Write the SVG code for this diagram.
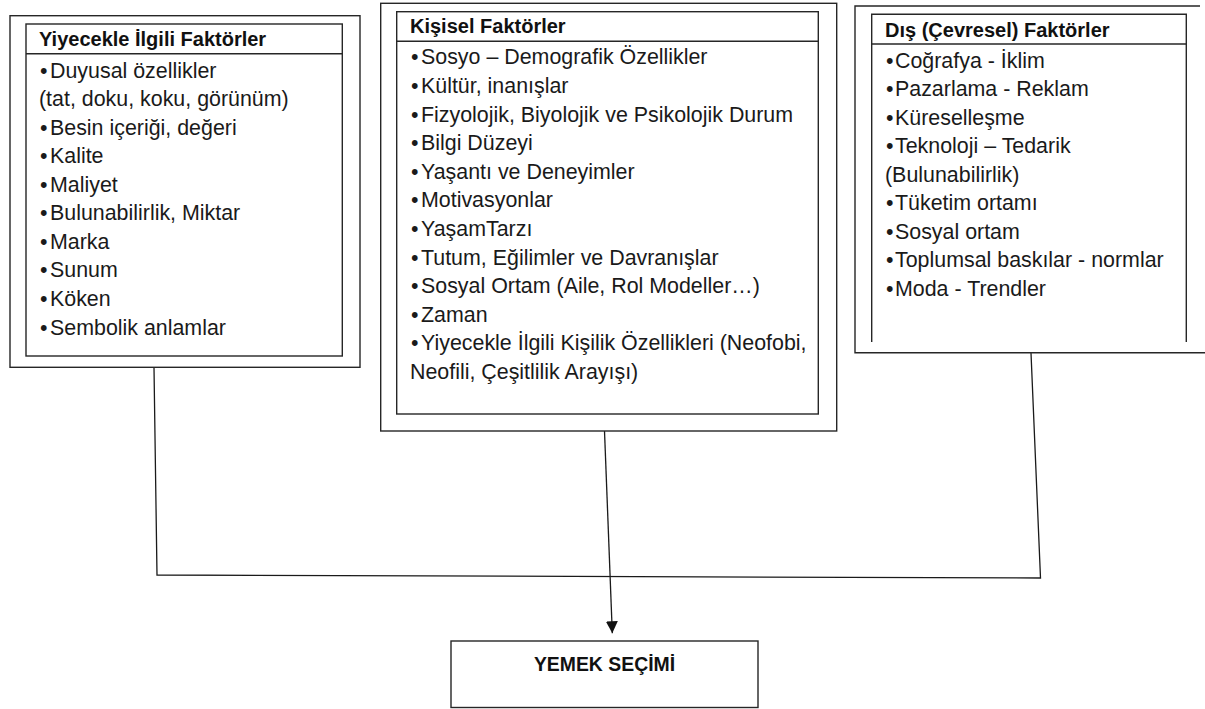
<svg xmlns="http://www.w3.org/2000/svg" width="1205" height="709" viewBox="0 0 1205 709">
<style>
.frame{fill:none;stroke:#262626;stroke-width:1.4}
.conn{fill:none;stroke:#1a1a1a;stroke-width:1.3}
.t{font-family:"Liberation Sans",Arial,sans-serif;font-size:21.4px;fill:#1a1a1a}
.h{font-family:"Liberation Sans",Arial,sans-serif;font-size:20px;font-weight:bold;fill:#111}
.b{font-family:"Liberation Sans",Arial,sans-serif;font-size:19.4px;font-weight:bold;fill:#111}
</style>
<defs>
<marker id="arr" markerUnits="userSpaceOnUse" markerWidth="12" markerHeight="12" refX="12" refY="6" orient="auto">
<path d="M0,0 L12,6 L0,12 Z" fill="#111"/>
</marker>
</defs>
<rect width="1205" height="709" fill="#fff"/>

<g id="connectors">
<path class="conn" d="M154,367.5 L157,575 L1040.5,578 L1031,353"/>
<path class="conn" d="M604.5,431 L612.3,633.3" marker-end="url(#arr)"/>
</g>

<g id="node-yiyecek">
<rect class="frame" x="10" y="15.7" width="350" height="351.6"/>
<rect class="frame" x="26" y="24" width="316.3" height="332"/>
<line class="frame" x1="26" y1="53.7" x2="342.3" y2="53.7"/>
<text class="h" x="39" y="46">Yiyecekle İlgili Faktörler</text>
<text class="t"><tspan x="40" y="77.5">•</tspan><tspan x="50" y="77.5">Duyusal özellikler</tspan></text>
<text class="t" x="39" y="106">(tat, doku, koku, görünüm)</text>
<text class="t"><tspan x="40" y="134.6">•</tspan><tspan x="50" y="134.6">Besin içeriği, değeri</tspan></text>
<text class="t"><tspan x="40" y="163.1">•</tspan><tspan x="50" y="163.1">Kalite</tspan></text>
<text class="t"><tspan x="40" y="191.7">•</tspan><tspan x="50" y="191.7">Maliyet</tspan></text>
<text class="t"><tspan x="40" y="220.2">•</tspan><tspan x="50" y="220.2">Bulunabilirlik, Miktar</tspan></text>
<text class="t"><tspan x="40" y="248.8">•</tspan><tspan x="50" y="248.8">Marka</tspan></text>
<text class="t"><tspan x="40" y="277.4">•</tspan><tspan x="50" y="277.4">Sunum</tspan></text>
<text class="t"><tspan x="40" y="305.9">•</tspan><tspan x="50" y="305.9">Köken</tspan></text>
<text class="t"><tspan x="40" y="334.5">•</tspan><tspan x="50" y="334.5">Sembolik anlamlar</tspan></text>
</g>

<g id="node-kisisel">
<rect class="frame" x="380.7" y="3.3" width="456" height="427.7"/>
<rect class="frame" x="396.7" y="11.7" width="421.6" height="402.3"/>
<line class="frame" x1="396.7" y1="41.3" x2="818.3" y2="41.3"/>
<text class="h" x="410" y="33.4">Kişisel Faktörler</text>
<text class="t"><tspan x="411" y="64.3">•</tspan><tspan x="421" y="64.3">Sosyo – Demografik Özellikler</tspan></text>
<text class="t"><tspan x="411" y="92.9">•</tspan><tspan x="421" y="92.9">Kültür, inanışlar</tspan></text>
<text class="t"><tspan x="411" y="121.5">•</tspan><tspan x="421" y="121.5">Fizyolojik, Biyolojik ve Psikolojik Durum</tspan></text>
<text class="t"><tspan x="411" y="150.1">•</tspan><tspan x="421" y="150.1">Bilgi Düzeyi</tspan></text>
<text class="t"><tspan x="411" y="178.7">•</tspan><tspan x="421" y="178.7">Yaşantı ve Deneyimler</tspan></text>
<text class="t"><tspan x="411" y="207.3">•</tspan><tspan x="421" y="207.3">Motivasyonlar</tspan></text>
<text class="t"><tspan x="411" y="235.9">•</tspan><tspan x="421" y="235.9">YaşamTarzı</tspan></text>
<text class="t"><tspan x="411" y="264.5">•</tspan><tspan x="421" y="264.5">Tutum, Eğilimler ve Davranışlar</tspan></text>
<text class="t"><tspan x="411" y="293.1">•</tspan><tspan x="421" y="293.1">Sosyal Ortam (Aile, Rol Modeller…)</tspan></text>
<text class="t"><tspan x="411" y="321.7">•</tspan><tspan x="421" y="321.7">Zaman</tspan></text>
<text class="t"><tspan x="411" y="350.3">•</tspan><tspan x="421" y="350.3">Yiyecekle İlgili Kişilik Özellikleri (Neofobi,</tspan></text>
<text class="t" x="410" y="378.9">Neofili, Çeşitlilik Arayışı)</text>
</g>

<g id="node-dis">
<path class="frame" d="M1200,6 H855 V352.7 H1205"/>
<path class="frame" d="M871.7,342 V14.3 H1186.3 V342"/>
<line class="frame" x1="871.7" y1="44" x2="1186.3" y2="44"/>
<text class="h" x="885" y="36.7">Dış (Çevresel) Faktörler</text>
<text class="t"><tspan x="886" y="67.5">•</tspan><tspan x="895" y="67.5">Coğrafya - İklim</tspan></text>
<text class="t"><tspan x="886" y="96">•</tspan><tspan x="895" y="96">Pazarlama - Reklam</tspan></text>
<text class="t"><tspan x="886" y="124.5">•</tspan><tspan x="895" y="124.5">Küreselleşme</tspan></text>
<text class="t"><tspan x="886" y="153">•</tspan><tspan x="895" y="153">Teknoloji – Tedarik</tspan></text>
<text class="t" x="885" y="181.5">(Bulunabilirlik)</text>
<text class="t"><tspan x="886" y="210">•</tspan><tspan x="895" y="210">Tüketim ortamı</tspan></text>
<text class="t"><tspan x="886" y="238.5">•</tspan><tspan x="895" y="238.5">Sosyal ortam</tspan></text>
<text class="t"><tspan x="886" y="267">•</tspan><tspan x="895" y="267">Toplumsal baskılar - normlar</tspan></text>
<text class="t"><tspan x="886" y="295.5">•</tspan><tspan x="895" y="295.5">Moda - Trendler</tspan></text>
</g>

<g id="node-yemek">
<rect class="frame" x="451" y="641" width="307" height="66.5"/>
<text class="b" x="604.5" y="671" text-anchor="middle">YEMEK SEÇİMİ</text>
</g>
</svg>
